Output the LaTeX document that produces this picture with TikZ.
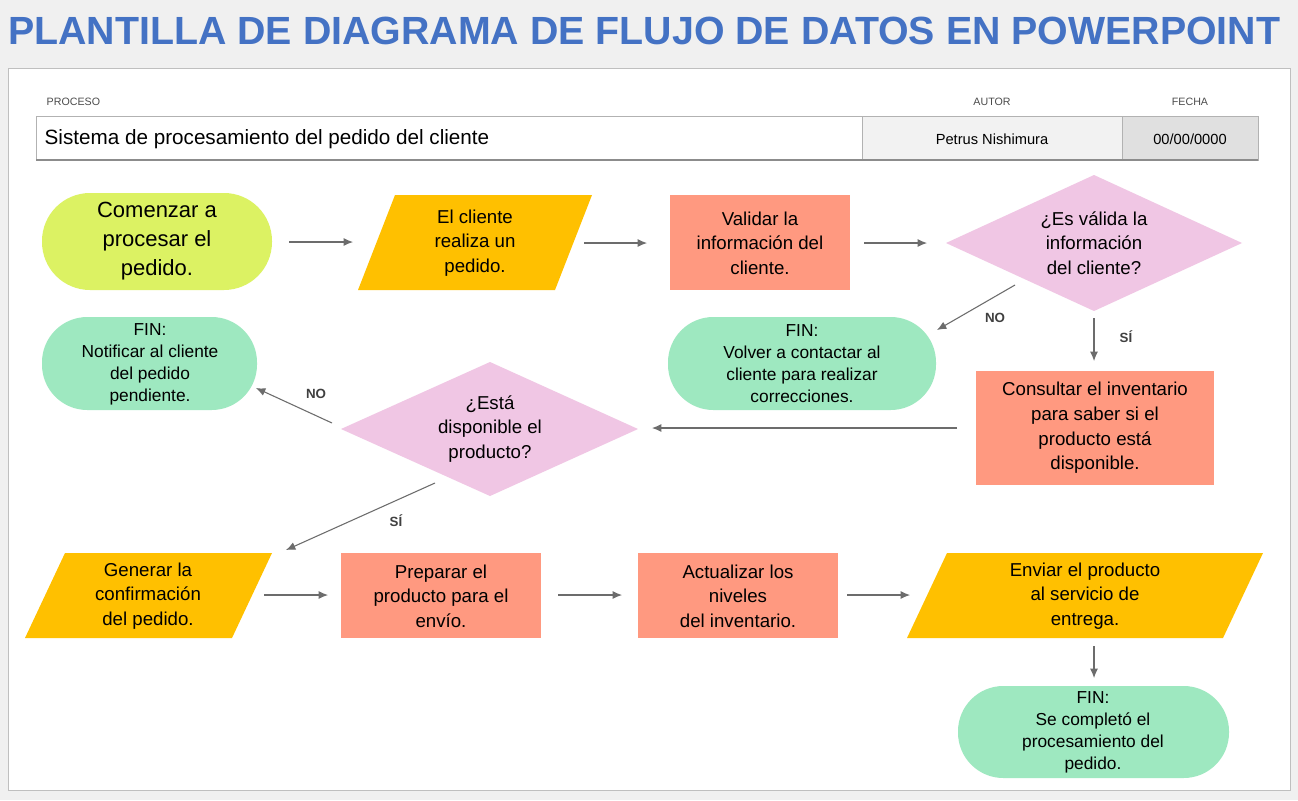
\documentclass[tikz,border=0pt]{standalone}
\usepackage{fontspec}
\setmainfont{Liberation Sans}
\usetikzlibrary{arrows.meta}
\begin{document}
\begin{tikzpicture}[x=0.75pt,y=-0.75pt,
  txt/.style={align=center,font=\fontsize{14}{18.5}\selectfont,text=black},
  arr/.style={draw=gray!85!black,line width=0.8pt,-{Latex[length=7pt,width=6pt]}},
  lbl/.style={font=\bfseries\fontsize{10}{12}\selectfont,text=black!75},
  hdr/.style={font=\fontsize{8}{10}\selectfont,text=black!70,anchor=west}]
\definecolor{ttl}{HTML}{4472C4}
\definecolor{lime}{HTML}{DCF263}
\definecolor{org}{HTML}{FFC000}
\definecolor{sal}{HTML}{FF9980}
\definecolor{pnk}{HTML}{F0C6E4}
\definecolor{mnt}{HTML}{9EE8C0}
\fill[black!6] (0,0) rectangle (1298,800);
\useasboundingbox (0,0) rectangle (1298,800);
\fill[white,draw=black!25] (8,68) rectangle (1290,790);
\node[anchor=west,text=ttl,inner sep=0] (title) at (8,31) {\resizebox{954pt}{!}{\bfseries\fontsize{32}{36}\selectfont PLANTILLA DE DIAGRAMA DE FLUJO DE DATOS EN POWERPOINT}};
% header
\node[hdr] (hp) at (42,102) {PROCESO};
\node[hdr,anchor=center] (ha) at (992,102) {AUTOR};
\node[hdr,anchor=center] (hf) at (1190,102) {FECHA};
\fill[white] (36,116) rectangle (862,160);
\fill[black!5] (862,116) rectangle (1122,160);
\fill[black!12] (1122,116) rectangle (1258,160);
\draw[black!30] (36,116) rectangle (1258,160);
\draw[black!30] (862,116)--(862,160) (1122,116)--(1122,160);
\draw[black!45,line width=1.5pt] (36,160)--(1258,160);
\node[anchor=west,font=\fontsize{15.5}{18}\selectfont] (proc) at (40,139) {Sistema de procesamiento del pedido del cliente};
\node[font=\fontsize{11}{13}\selectfont] (aut) at (992,139) {Petrus Nishimura};
\node[font=\fontsize{11}{13}\selectfont] (fec) at (1190,139) {00/00/0000};
% shapes
\fill[lime,rounded corners=36pt] (42,193) rectangle (272,290);
\node[txt,font=\fontsize{16.5}{22}\selectfont] (s1) at (157,241) {Comenzar a\\procesar el\\pedido.};
\fill[org] (395,195)--(592,195)--(555,290)--(358,290)--cycle;
\node[txt] (s2) at (475,243) {El cliente\\realiza un\\pedido.};
\fill[sal] (670,195) rectangle (850,290);
\node[txt] (s3) at (760,243) {Validar la\\información del\\cliente.};
\fill[pnk] (946,243)--(1094,175)--(1242,243)--(1094,311)--cycle;
\node[txt] (d1) at (1094,243) {¿Es válida la\\información\\del cliente?};
\fill[mnt,rounded corners=34pt] (668,317) rectangle (936,410);
\node[txt,font=\fontsize{13}{16.5}\selectfont] (f1) at (802,364) {FIN:\\Volver a contactar al\\cliente para realizar\\correcciones.};
\fill[sal] (976,371) rectangle (1214,485);
\node[txt] (s4) at (1095,428) {Consultar el inventario\\para saber si el\\producto está\\disponible.};
\fill[pnk] (341,429)--(490,362)--(638,429)--(490,496)--cycle;
\node[txt] (d2) at (490,429) {¿Está\\disponible el\\producto?};
\fill[mnt,rounded corners=34pt] (42,317) rectangle (257,410);
\node[txt,font=\fontsize{13}{16.5}\selectfont] (f2) at (150,364) {FIN:\\Notificar al cliente\\del pedido\\pendiente.};
\fill[org] (65,553)--(272,553)--(232,638)--(25,638)--cycle;
\node[txt] (s5) at (148,596) {Generar la\\confirmación\\del pedido.};
\fill[sal] (341,553) rectangle (541,638);
\node[txt] (s6) at (441,596) {Preparar el\\producto para el\\envío.};
\fill[sal] (638,553) rectangle (838,638);
\node[txt] (s7) at (738,596) {Actualizar los\\niveles\\del inventario.};
\fill[org] (947,553)--(1263,553)--(1223,638)--(907,638)--cycle;
\node[txt] (s8) at (1085,596) {Enviar el producto\\al servicio de\\entrega.};
\fill[mnt,rounded corners=34pt] (958,686) rectangle (1229,778);
\node[txt,font=\fontsize{13}{16.5}\selectfont] (f3) at (1093,732) {FIN:\\Se completó el\\procesamiento del\\pedido.};
% arrows
\coordinate (a1) at (289,242); \coordinate (b1) at (353,242);
\coordinate (a2) at (584,243); \coordinate (b2) at (647,243);
\coordinate (a3) at (864,243); \coordinate (b3) at (927,243);
\coordinate (a4) at (1015,285); \coordinate (b4) at (937,330);
\coordinate (a5) at (1094,318); \coordinate (b5) at (1094,361);
\coordinate (a6) at (957,428); \coordinate (b6) at (652,428);
\coordinate (a7) at (332,423); \coordinate (b7) at (256,388);
\coordinate (a8) at (435,483); \coordinate (b8) at (286,550);
\coordinate (a9) at (264,595); \coordinate (b9) at (328,595);
\coordinate (a10) at (558,595); \coordinate (b10) at (622,595);
\coordinate (a11) at (847,595); \coordinate (b11) at (910,595);
\coordinate (a12) at (1094,646); \coordinate (b12) at (1094,678);
\foreach \i in {1,...,12} {\draw[arr] (a\i)--(b\i);}
\node[lbl] (n1) at (995,318) {NO};
\node[lbl] (y1) at (1126,337) {SÍ};
\node[lbl] (n2) at (316,394) {NO};
\node[lbl] (y2) at (396,521) {SÍ};
\end{tikzpicture}
\end{document}
